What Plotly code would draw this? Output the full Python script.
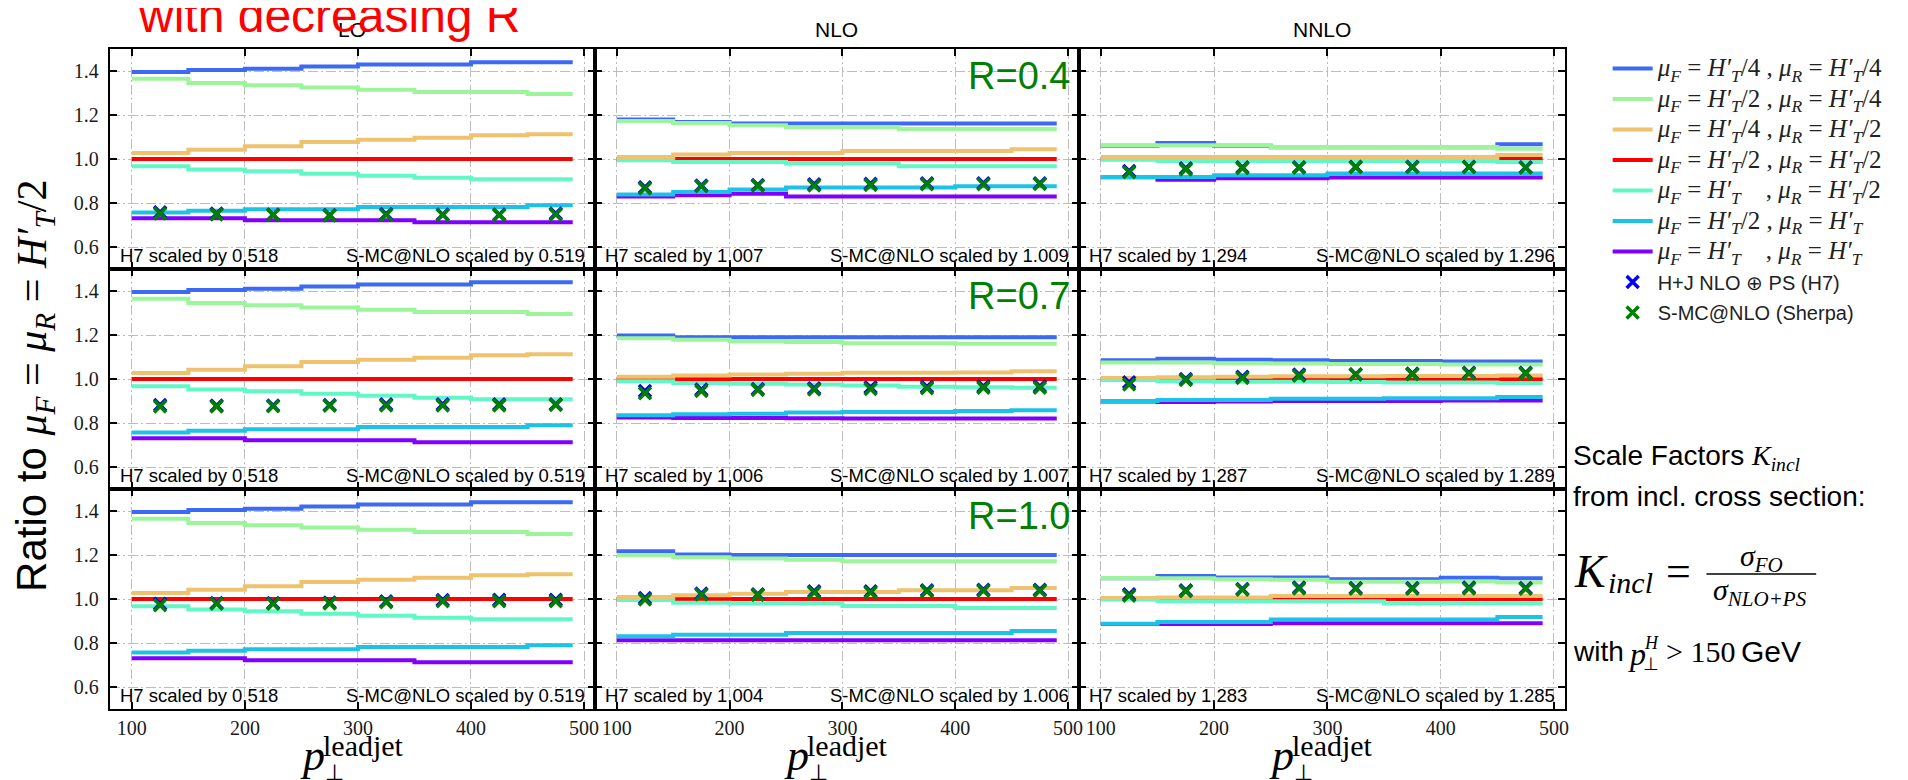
import plotly.graph_objects as go

W, H = 1908, 780

# ---------------- data ----------------
bin_edges = [100, 150, 200, 250, 300, 350, 400, 450, 490]
bin_centres = [125, 175, 225, 275, 325, 375, 425, 475]
orders = ["LO", "NLO", "NNLO"]
radii = ["R=0.4", "R=0.7", "R=1.0"]
x_ticks = [100, 200, 300, 400, 500]
y_ticks = [0.6, 0.8, 1.0, 1.2, 1.4]
k_ticks = [0.6, 0.8, 1.0, 1.2, 1.4]

# LO curves (same for every jet radius)
lo_f4r4 = [1.395, 1.405, 1.41, 1.42, 1.43, 1.43, 1.44, 1.44]
lo_f2r4 = [1.365, 1.345, 1.335, 1.325, 1.315, 1.305, 1.305, 1.295]
lo_f4r2 = [1.027, 1.042, 1.058, 1.077, 1.088, 1.097, 1.108, 1.112]
lo_f2r2 = [1.0, 1.0, 1.0, 1.0, 1.0, 1.0, 1.0, 1.0]
lo_f1r2 = [0.967, 0.952, 0.944, 0.933, 0.924, 0.915, 0.908, 0.908]
lo_f2r1 = [0.757, 0.765, 0.772, 0.772, 0.782, 0.782, 0.782, 0.79]
lo_f1r1 = [0.731, 0.731, 0.722, 0.722, 0.722, 0.712, 0.712, 0.712]

# NLO, R=0.4
nlo04_f4r4 = [1.179, 1.168, 1.161, 1.161, 1.161, 1.161, 1.161, 1.161]
nlo04_f2r4 = [1.173, 1.164, 1.153, 1.145, 1.145, 1.136, 1.136, 1.136]
nlo04_f4r2 = [1.009, 1.021, 1.027, 1.027, 1.036, 1.036, 1.036, 1.044]
nlo04_f2r2 = [1.0, 1.0, 1.0, 1.0, 1.0, 1.0, 1.0, 1.0]
nlo04_f1r2 = [0.994, 0.986, 0.986, 0.979, 0.979, 0.967, 0.967, 0.967]
nlo04_f2r1 = [0.839, 0.85, 0.861, 0.87, 0.87, 0.87, 0.876, 0.876]
nlo04_f1r1 = [0.83, 0.835, 0.842, 0.83, 0.83, 0.83, 0.83, 0.83]
# NLO, R=0.7
nlo07_f4r4 = [1.198, 1.19, 1.19, 1.19, 1.19, 1.19, 1.19, 1.19]
nlo07_f2r4 = [1.185, 1.178, 1.172, 1.168, 1.163, 1.163, 1.16, 1.16]
nlo07_f4r2 = [1.01, 1.016, 1.02, 1.024, 1.028, 1.028, 1.03, 1.035]
nlo07_f2r2 = [1.0, 1.0, 1.0, 1.0, 1.0, 1.0, 1.0, 1.0]
nlo07_f1r2 = [0.99, 0.982, 0.978, 0.975, 0.97, 0.965, 0.962, 0.96]
nlo07_f2r1 = [0.835, 0.84, 0.842, 0.848, 0.85, 0.85, 0.855, 0.858]
nlo07_f1r1 = [0.825, 0.823, 0.823, 0.822, 0.82, 0.82, 0.82, 0.82]
# NLO, R=1.0
nlo10_f4r4 = [1.217, 1.202, 1.2, 1.2, 1.2, 1.2, 1.2, 1.2]
nlo10_f2r4 = [1.2, 1.19, 1.184, 1.178, 1.172, 1.172, 1.172, 1.172]
nlo10_f4r2 = [1.009, 1.017, 1.024, 1.032, 1.032, 1.04, 1.04, 1.05]
nlo10_f2r2 = [1.0, 1.0, 1.0, 1.0, 1.0, 1.0, 1.0, 1.0]
nlo10_f1r2 = [0.995, 0.983, 0.979, 0.979, 0.968, 0.968, 0.959, 0.959]
nlo10_f2r1 = [0.831, 0.837, 0.837, 0.846, 0.846, 0.846, 0.846, 0.854]
nlo10_f1r1 = [0.812, 0.812, 0.812, 0.812, 0.812, 0.812, 0.812, 0.812]

# NNLO, R=0.4
nnlo04_f4r4 = [1.06, 1.073, 1.06, 1.053, 1.053, 1.053, 1.053, 1.067]
nnlo04_f2r4 = [1.062, 1.062, 1.062, 1.055, 1.055, 1.055, 1.055, 1.047]
nnlo04_f4r2 = [1.009, 1.009, 1.009, 1.009, 1.009, 1.009, 1.009, 1.018]
nnlo04_f2r2 = [1.0, 1.0, 1.0, 1.0, 1.0, 1.0, 1.0, 1.0]
nnlo04_f1r2 = [0.997, 0.991, 0.991, 0.991, 0.991, 0.991, 0.991, 0.986]
nnlo04_f2r1 = [0.918, 0.918, 0.926, 0.926, 0.934, 0.934, 0.934, 0.934]
nnlo04_f1r1 = [0.917, 0.906, 0.913, 0.913, 0.916, 0.916, 0.916, 0.916]
# NNLO, R=0.7
nnlo07_f4r4 = [1.085, 1.092, 1.088, 1.085, 1.082, 1.082, 1.08, 1.08]
nnlo07_f2r4 = [1.075, 1.075, 1.072, 1.07, 1.068, 1.068, 1.066, 1.066]
nnlo07_f4r2 = [1.005, 1.008, 1.01, 1.012, 1.012, 1.014, 1.014, 1.016]
nnlo07_f2r2 = [1.0, 1.0, 1.0, 1.0, 1.0, 1.0, 1.0, 1.0]
nnlo07_f1r2 = [0.995, 0.99, 0.988, 0.988, 0.986, 0.984, 0.984, 0.982]
nnlo07_f2r1 = [0.9, 0.905, 0.905, 0.91, 0.91, 0.912, 0.912, 0.918]
nnlo07_f1r1 = [0.898, 0.896, 0.898, 0.9, 0.9, 0.9, 0.902, 0.902]
# NNLO, R=1.0
nnlo10_f4r4 = [1.094, 1.105, 1.098, 1.098, 1.09, 1.09, 1.097, 1.094]
nnlo10_f2r4 = [1.096, 1.094, 1.09, 1.088, 1.078, 1.078, 1.08, 1.075]
nnlo10_f4r2 = [1.004, 1.007, 1.007, 1.014, 1.014, 1.014, 1.014, 1.014]
nnlo10_f2r2 = [1.0, 1.0, 1.0, 1.0, 1.0, 1.0, 1.0, 1.0]
nnlo10_f1r2 = [0.998, 0.99, 0.99, 0.99, 0.99, 0.98, 0.98, 0.98]
nnlo10_f2r1 = [0.887, 0.895, 0.895, 0.907, 0.907, 0.907, 0.907, 0.918]
nnlo10_f1r1 = [0.886, 0.886, 0.886, 0.89, 0.89, 0.89, 0.89, 0.89]

# NLO+PS points (H7 and Sherpa), per order and radius
lo04_h7 = [0.758, 0.752, 0.748, 0.745, 0.75, 0.748, 0.748, 0.752]
lo04_sh = [0.752, 0.748, 0.745, 0.743, 0.746, 0.745, 0.745, 0.748]
lo07_h7 = [0.882, 0.88, 0.88, 0.882, 0.885, 0.885, 0.885, 0.885]
lo07_sh = [0.875, 0.875, 0.876, 0.878, 0.88, 0.88, 0.88, 0.882]
lo10_h7 = [0.978, 0.982, 0.982, 0.984, 0.99, 0.995, 0.997, 0.997]
lo10_sh = [0.972, 0.978, 0.978, 0.98, 0.985, 0.99, 0.99, 0.99]
nlo04_h7 = [0.872, 0.88, 0.882, 0.885, 0.887, 0.89, 0.89, 0.89]
nlo04_sh = [0.866, 0.876, 0.878, 0.88, 0.882, 0.885, 0.885, 0.886]
nlo07_h7 = [0.945, 0.952, 0.955, 0.958, 0.962, 0.965, 0.967, 0.967]
nlo07_sh = [0.935, 0.945, 0.95, 0.952, 0.955, 0.958, 0.96, 0.96]
nlo10_h7 = [1.005, 1.025, 1.022, 1.035, 1.035, 1.04, 1.042, 1.042]
nlo10_sh = [0.998, 1.02, 1.018, 1.03, 1.03, 1.035, 1.038, 1.038]
nnlo04_h7 = [0.945, 0.958, 0.962, 0.962, 0.965, 0.965, 0.965, 0.962]
nnlo04_sh = [0.94, 0.952, 0.958, 0.96, 0.962, 0.962, 0.962, 0.96]
nnlo07_h7 = [0.985, 1.0, 1.01, 1.02, 1.022, 1.025, 1.028, 1.028]
nnlo07_sh = [0.975, 0.995, 1.005, 1.015, 1.02, 1.022, 1.025, 1.025]
nnlo10_h7 = [1.022, 1.04, 1.045, 1.052, 1.05, 1.05, 1.052, 1.05]
nnlo10_sh = [1.015, 1.035, 1.042, 1.048, 1.046, 1.046, 1.048, 1.046]

h7_scale = [["0.518", "1.007", "1.294"], ["0.518", "1.006", "1.287"], ["0.518", "1.004", "1.283"]]
sh_scale = [["0.519", "1.009", "1.296"], ["0.519", "1.007", "1.289"], ["0.519", "1.006", "1.285"]]

# ---------------- styling ----------------
SERIF = "Liberation Serif"
SANS = "Liberation Sans"
scale_keys = ["f2r2", "f4r4", "f2r4", "f1r2", "f4r2", "f1r1", "f2r1"]  # draw order
scale_colors = {
    "f4r4": "#3d6af5", "f2r4": "#9df59b", "f4r2": "#eec26e", "f2r2": "#ff0000",
    "f1r2": "#62f7c6", "f2r1": "#1cc3e6", "f1r1": "#7f00ff",
}
HT = "<i>H′<sub>T</sub></i>"
MF = "<i>μ<sub>F</sub></i>"
MR = "<i>μ<sub>R</sub></i>"
SP = "&nbsp;&nbsp;&nbsp;&nbsp;"
LEG_SERIF = '<span style="font-size:25px">'
scale_labels = {
    "f4r4": f"{LEG_SERIF}{MF} = {HT}/4 , {MR} = {HT}/4</span>",
    "f2r4": f"{LEG_SERIF}{MF} = {HT}/2 , {MR} = {HT}/4</span>",
    "f4r2": f"{LEG_SERIF}{MF} = {HT}/4 , {MR} = {HT}/2</span>",
    "f2r2": f"{LEG_SERIF}{MF} = {HT}/2 , {MR} = {HT}/2</span>",
    "f1r2": f"{LEG_SERIF}{MF} = {HT}{SP}, {MR} = {HT}/2</span>",
    "f2r1": f"{LEG_SERIF}{MF} = {HT}/2 , {MR} = {HT}</span>",
    "f1r1": f"{LEG_SERIF}{MF} = {HT}{SP}, {MR} = {HT}</span>",
}
scale_rank = {"f4r4": 1, "f2r4": 2, "f4r2": 3, "f2r2": 4, "f1r2": 5, "f2r1": 6, "f1r1": 7}

g = globals()
lo_curves = {k: g["lo_" + k] for k in scale_keys}
curves = {}
for r, tag in enumerate(["04", "07", "10"]):
    curves[(r, 0)] = lo_curves
    curves[(r, 1)] = {k: g[f"nlo{tag}_{k}"] for k in scale_keys}
    curves[(r, 2)] = {k: g[f"nnlo{tag}_{k}"] for k in scale_keys}
points = {}
for r, tag in enumerate(["04", "07", "10"]):
    for c, o in enumerate(["lo", "nlo", "nnlo"]):
        points[(r, c)] = (g[f"{o}{tag}_h7"], g[f"{o}{tag}_sh"])

# ---------------- layout geometry (pixels) ----------------
col_edges = [102, 588, 1073, 1560]
row_edges = [41, 261, 481, 701]
leg_x = [1561, 1900]


def px(x):
    return x / W


def py(y):
    return 1 - y / H


fig = go.Figure()
layout = dict(
    width=W, height=H, margin=dict(l=0, r=0, t=0, b=0),
    paper_bgcolor="white", plot_bgcolor="white", showlegend=True,
    annotations=[], shapes=[],
)

grid_kw = dict(showgrid=True, gridcolor="#bdbdbd", gridwidth=1.2, griddash="10px,3px,2px,3px",
               zeroline=False, showline=True, linecolor="black", linewidth=2, mirror="ticks",
               ticks="inside", ticklen=7, tickwidth=1.5, tickcolor="black",
               tickfont=dict(family=SERIF, size=20, color="#1a1a1a"))

for r in range(3):
    for c in range(3):
        k = r * 3 + c + 1
        xs = "" if k == 1 else str(k)
        layout["xaxis" + xs] = dict(
            domain=[px(col_edges[c]), px(col_edges[c + 1])], anchor="y" + xs,
            range=[80.5, 509.5], tickvals=x_ticks, showticklabels=(r == 2), **grid_kw)
        layout["yaxis" + xs] = dict(
            domain=[py(row_edges[r + 1]), py(row_edges[r])], anchor="x" + xs,
            range=[0.5, 1.5], tickvals=y_ticks, tickformat=".1f",
            showticklabels=(c == 0), ticklabelstandoff=5, **grid_kw)
        first = (r == 0 and c == 0)
        cv = curves[(r, c)]
        for key in scale_keys:
            vals = cv[key]
            fig.add_trace(go.Scatter(
                x=bin_edges, y=vals + [vals[-1]], mode="lines", line_shape="hv",
                line=dict(color=scale_colors[key], width=4),
                xaxis="x" + xs, yaxis="y" + xs, name=scale_labels[key],
                legendgroup=key, legendrank=scale_rank[key], showlegend=first,
                hoverinfo="skip"))
        h7, sh = points[(r, c)]
        fig.add_trace(go.Scatter(
            x=bin_centres, y=h7, mode="markers", xaxis="x" + xs, yaxis="y" + xs,
            marker=dict(symbol="x-thin", size=12, color="#0000ff", line=dict(width=3.5, color="#0000ff")),
            name=f'<span style="font-family:{SANS};font-size:20px">H+J NLO ⊕ PS (H7)</span>',
            legendgroup="h7", legendrank=8, showlegend=first))
        fig.add_trace(go.Scatter(
            x=bin_centres, y=sh, mode="markers", xaxis="x" + xs, yaxis="y" + xs,
            marker=dict(symbol="x-thin", size=12, color="#008000", line=dict(width=3.5, color="#008000")),
            name=f'<span style="font-family:{SANS};font-size:20px">S-MC@NLO (Sherpa)</span>',
            legendgroup="sh", legendrank=9, showlegend=first))

        top = row_edges[r]
        layout["annotations"].append(dict(
            text=f"H7 scaled by {h7_scale[r][c]}", xref="paper", yref="paper",
            x=px(col_edges[c] + 8), y=py(top + 206), xanchor="left", yanchor="middle",
            showarrow=False, font=dict(family=SANS, size=18.5, color="black")))
        layout["annotations"].append(dict(
            text=f"S-MC@NLO scaled by {sh_scale[r][c]}", xref="paper", yref="paper",
            x=px(col_edges[c + 1] - 8), y=py(top + 206), xanchor="right", yanchor="middle",
            showarrow=False, font=dict(family=SANS, size=18.5, color="black")))

# legend / text panel
layout["xaxis10"] = dict(domain=[px(leg_x[0]), px(leg_x[1])], anchor="y10", range=[0.5, 1.5],
                         tickvals=k_ticks, tickformat=".1f", showgrid=False, zeroline=False,
                         showline=True, linecolor="black", linewidth=2, mirror=True,
                         ticks="outside", ticklen=7, tickwidth=1.5, tickcolor="black",
                         tickfont=dict(family=SERIF, size=20, color="#1a1a1a"))
layout["yaxis10"] = dict(domain=[py(701), py(41)], anchor="x10", range=[0, 1], showgrid=False,
                         zeroline=False, showline=True, linecolor="black", linewidth=2,
                         mirror=True, ticks="", showticklabels=False)

layout["legend"] = dict(x=px(1603), y=py(41), xanchor="left", yanchor="top",
                        bgcolor="rgba(0,0,0,0)", font=dict(family=SERIF, size=20, color="#222"),
                        tracegroupgap=1.5, traceorder="grouped", itemwidth=40)

ann = layout["annotations"]
# column titles
for c, o in enumerate(orders):
    ann.append(dict(text=o, xref="paper", yref="paper", x=px((col_edges[c] + col_edges[c + 1]) / 2),
                    y=py(21), xanchor="center", yanchor="middle", showarrow=False,
                    font=dict(family=SANS, size=21, color="black")))
# R labels
for r, lab in enumerate(radii):
    ann.append(dict(text=lab, xref="paper", yref="paper", x=px(col_edges[2] - 7),
                    y=py(row_edges[r] + 27), xanchor="right", yanchor="middle", showarrow=False,
                    font=dict(family=SANS, size=38, color="#008000")))
# x titles
for c in range(3):
    cx = (col_edges[c] + col_edges[c + 1]) / 2
    ann.append(dict(text="<i>p</i>", xref="paper", yref="paper", x=px(cx - 40), y=py(747),
                    xanchor="center", yanchor="middle", showarrow=False,
                    font=dict(family=SERIF, size=44, color="black")))
    ann.append(dict(text="⊥", xref="paper", yref="paper", x=px(cx - 18), y=py(764),
                    xanchor="center", yanchor="middle", showarrow=False,
                    font=dict(family=SERIF, size=22, color="black")))
    ann.append(dict(text="leadjet", xref="paper", yref="paper", x=px(cx + 11), y=py(737),
                    xanchor="center", yanchor="middle", showarrow=False,
                    font=dict(family=SERIF, size=30, color="black")))
# y title
ann.append(dict(text=f'Ratio to <span style="font-family:{SERIF}">{MF} = {MR} = {HT}/2</span>',
                xref="paper", yref="paper", x=px(26), y=py(378), xanchor="center", yanchor="middle",
                textangle=-90, showarrow=False, font=dict(family=SANS, size=42, color="black")))
# red headline
ann.append(dict(text="with decreasing R", xref="paper", yref="paper", x=px(322), y=py(8),
                xanchor="center", yanchor="middle", showarrow=False,
                font=dict(family=SANS, size=48, color="#ff0000")))
# scale factor explanation
ann.append(dict(text=f'Scale Factors <span style="font-family:{SERIF}"><i>K<sub>incl</sub></i></span>',
                xref="paper", yref="paper", x=px(1566), y=py(450), xanchor="left", yanchor="middle",
                showarrow=False, font=dict(family=SANS, size=28, color="black")))
ann.append(dict(text="from incl. cross section:", xref="paper", yref="paper", x=px(1566), y=py(488),
                xanchor="left", yanchor="middle", showarrow=False,
                font=dict(family=SANS, size=28, color="black")))
ann.append(dict(text="<i>K</i>", xref="paper", yref="paper", x=px(1567), y=py(563), xanchor="left",
                yanchor="middle", showarrow=False, font=dict(family=SERIF, size=46, color="black")))
ann.append(dict(text="<i>incl</i>", xref="paper", yref="paper", x=px(1601), y=py(574), xanchor="left",
                yanchor="middle", showarrow=False, font=dict(family=SERIF, size=30, color="black")))
ann.append(dict(text="=", xref="paper", yref="paper", x=px(1674), y=py(563), xanchor="center",
                yanchor="middle", showarrow=False, font=dict(family=SERIF, size=44, color="black")))
ann.append(dict(text="<i>σ<sub>FO</sub></i>", xref="paper", yref="paper", x=px(1757), y=py(550),
                xanchor="center", yanchor="middle", showarrow=False,
                font=dict(family=SERIF, size=30, color="black")))
ann.append(dict(text="<i>σ<sub>NLO+PS</sub></i>", xref="paper", yref="paper", x=px(1756), y=py(584),
                xanchor="center", yanchor="middle", showarrow=False,
                font=dict(family=SERIF, size=30, color="black")))
layout["shapes"].append(dict(type="line", xref="paper", yref="paper", x0=px(1702), x1=px(1812),
                             y0=py(566), y1=py(566), line=dict(color="black", width=1.5)))
ann.append(dict(text="with", xref="paper", yref="paper", x=px(1566), y=py(643), xanchor="left",
                yanchor="middle", showarrow=False, font=dict(family=SANS, size=28, color="black")))
ann.append(dict(text="<i>p</i>", xref="paper", yref="paper", x=px(1632), y=py(646), xanchor="center",
                yanchor="middle", showarrow=False, font=dict(family=SERIF, size=32, color="black")))
ann.append(dict(text="<i>H</i>", xref="paper", yref="paper", x=px(1647), y=py(635), xanchor="center",
                yanchor="middle", showarrow=False, font=dict(family=SERIF, size=18, color="black")))
ann.append(dict(text="⊥", xref="paper", yref="paper", x=px(1646), y=py(656), xanchor="center",
                yanchor="middle", showarrow=False, font=dict(family=SERIF, size=18, color="black")))
ann.append(dict(text="&gt; 150", xref="paper", yref="paper", x=px(1659), y=py(643), xanchor="left",
                yanchor="middle", showarrow=False, font=dict(family=SERIF, size=30, color="black")))
ann.append(dict(text="GeV", xref="paper", yref="paper", x=px(1735), y=py(643), xanchor="left",
                yanchor="middle", showarrow=False, font=dict(family=SANS, size=30, color="black")))

fig.update_layout(**layout)
fig.write_html("out.html")
